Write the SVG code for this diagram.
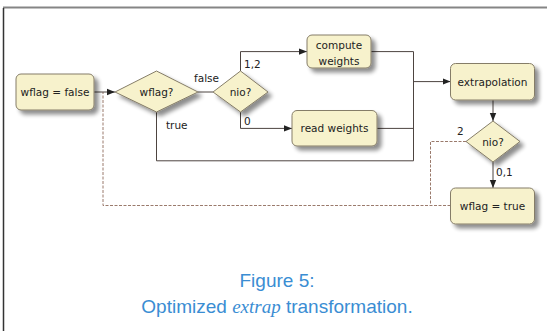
<svg xmlns="http://www.w3.org/2000/svg" width="547" height="331" viewBox="0 0 547 331">
<defs>
<filter id="sh" x="-20%" y="-20%" width="150%" height="160%">
<feGaussianBlur in="SourceAlpha" stdDeviation="2.2"/>
<feOffset dx="3.5" dy="3.5" result="b"/>
<feComponentTransfer><feFuncA type="linear" slope="0.45"/></feComponentTransfer>
<feMerge><feMergeNode/><feMergeNode in="SourceGraphic"/></feMerge>
</filter>
<marker id="ar" viewBox="0 0 8 8" refX="8" refY="4" markerWidth="8" markerHeight="8" markerUnits="userSpaceOnUse" orient="auto">
<path d="M0,0.8 L8,4 L0,7.2 z" fill="#222"/>
</marker>
</defs>
<style>
.n{fill:#f7f2cc;stroke:#857d68;stroke-width:1;filter:url(#sh)}
.t{font-family:"DejaVu Sans",Verdana,sans-serif;font-size:10.5px;fill:#222;text-anchor:middle;dominant-baseline:central}
.l{font-family:"DejaVu Sans",Verdana,sans-serif;font-size:10.5px;fill:#222}
.c{fill:none;stroke:#4d4440;stroke-width:1}
.d{fill:none;stroke:#9a7a6c;stroke-width:1;stroke-dasharray:3,1.5}
.cap{font-family:"Liberation Sans",Arial,sans-serif;font-size:19px;fill:#3a8dd3;text-anchor:middle}
</style>
<rect width="547" height="331" fill="#fff"/>
<line x1="3" y1="7.5" x2="547" y2="7.5" stroke="#858585" stroke-width="2"/>
<line x1="3.5" y1="8" x2="3.5" y2="331" stroke="#333" stroke-width="1.5"/>

<g id="connectors">
<path class="d" d="M450.5,205.5 H103 V92"/>
<path class="d" d="M466,141.5 H430.5 V205.5"/>
<path class="c" d="M94,92 H115" marker-end="url(#ar)"/>
<path class="c" d="M198,92 H213"/>
<path class="c" d="M240.5,71 V51.6 H307" marker-end="url(#ar)"/>
<path class="c" d="M240.5,112 V128.4 H292" marker-end="url(#ar)"/>
<path class="c" d="M371,51.6 H413.5 V160.8 H156.5 V112"/>
<path class="c" d="M377,128.4 H413.5"/>
<path class="c" d="M413.5,81.6 H450.5" marker-end="url(#ar)"/>
<path class="c" d="M493,100 V121" marker-end="url(#ar)"/>
<path class="c" d="M493,162 V188" marker-end="url(#ar)"/>
<text class="l" x="194" y="82">false</text>
<text class="l" x="244" y="68">1,2</text>
<text class="l" x="244" y="125">0</text>
<text class="l" x="166" y="129">true</text>
<text class="l" x="457" y="135">2</text>
<text class="l" x="496" y="176">0,1</text>
</g>

<g id="wflag-false">
<rect class="n" x="16" y="74" width="78" height="36" rx="5"/>
<text class="t" x="55" y="92">wflag = false</text>
</g>
<g id="wflag-q">
<path class="n" d="M156.5,71 L198,92 L156.5,112 L115,92 z"/>
<text class="t" x="156.5" y="92">wflag?</text>
</g>
<g id="nio1">
<path class="n" d="M240.5,71 L268,92 L240.5,112 L213,92 z"/>
<text class="t" x="240.5" y="92">nio?</text>
</g>
<g id="compute-weights">
<rect class="n" x="307" y="35" width="64" height="33" rx="5"/>
<text class="t" x="339" y="44.5">compute</text>
<text class="t" x="339" y="60.5">weights</text>
</g>
<g id="read-weights">
<rect class="n" x="292" y="110.5" width="85" height="35.5" rx="5"/>
<text class="t" x="334.5" y="128.4">read weights</text>
</g>
<g id="extrapolation">
<rect class="n" x="450.5" y="63.5" width="84" height="36.5" rx="5"/>
<text class="t" x="492.5" y="82">extrapolation</text>
</g>
<g id="nio2">
<path class="n" d="M493,121 L520,141.5 L493,162 L466,141.5 z"/>
<text class="t" x="493" y="141.5">nio?</text>
</g>
<g id="wflag-true">
<rect class="n" x="450.5" y="188" width="84" height="36" rx="5"/>
<text class="t" x="492.5" y="206">wflag = true</text>
</g>

<text class="cap" x="277" y="287">Figure 5:</text>
<text class="cap" x="277" y="313">Optimized <tspan font-family="'Liberation Serif','Times New Roman',serif" font-style="italic">extrap</tspan> transformation.</text>
</svg>
